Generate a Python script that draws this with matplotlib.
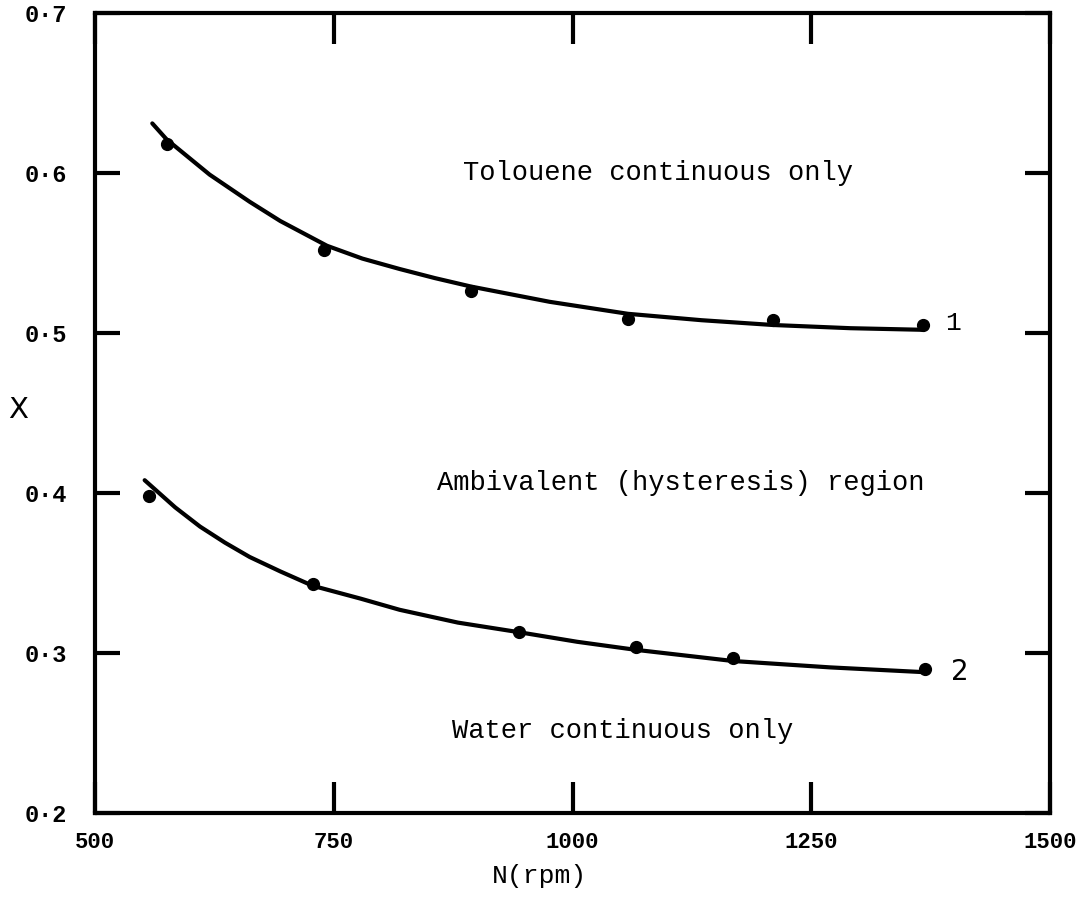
import matplotlib
matplotlib.use("Agg")
from matplotlib import pyplot as plt

# Phase boundary curves: stirrer speed N (rpm) vs. dispersed fraction X
curve1_n = [560, 575, 620, 662, 694, 743, 780, 819, 856, 894, 976, 1058,
            1135, 1210, 1291, 1367]
curve1_x = [0.631, 0.621, 0.599, 0.582, 0.570, 0.5545, 0.5465, 0.540, 0.5343,
            0.529, 0.5195, 0.512, 0.508, 0.505, 0.503, 0.502]
points1_n = [575, 740, 894, 1058, 1210, 1367]
points1_x = [0.618, 0.552, 0.526, 0.509, 0.508, 0.505]

curve2_n = [552, 584, 610, 636, 662, 694, 728, 778, 819, 880, 944, 1005,
            1066, 1168, 1270, 1369]
curve2_x = [0.408, 0.391, 0.379, 0.369, 0.360, 0.351, 0.342, 0.334, 0.327,
            0.319, 0.313, 0.307, 0.302, 0.295, 0.291, 0.288]
points2_n = [557, 728, 944, 1066, 1168, 1369]
points2_x = [0.398, 0.343, 0.313, 0.304, 0.297, 0.290]

x_ticks = [500, 750, 1000, 1250, 1500]
x_ticklabels = ["500", "750", "1000", "1250", "1500"]
y_ticks = [0.2, 0.3, 0.4, 0.5, 0.6, 0.7]
y_ticklabels = ["0·2", "0·3", "0·4", "0·5", "0·6", "0·7"]

region_labels = [
    ("Tolouene continuous only", 1090, 0.600),
    ("Ambivalent (hysteresis) region", 1113, 0.406),
    ("Water continuous only", 1052, 0.251),
]

mono = "Liberation Mono"

fig = plt.figure(figsize=(10.91, 9.06), dpi=100)
ax = fig.add_axes((95 / 1091, 1 - 813 / 906, 955 / 1091, 800 / 906))

ax.plot(curve1_n, curve1_x, color="black", linewidth=3.0,
        solid_capstyle="round", solid_joinstyle="round")
ax.plot(curve2_n, curve2_x, color="black", linewidth=3.0,
        solid_capstyle="round", solid_joinstyle="round")
ax.plot(points1_n, points1_x, "o", color="black", markersize=8.5)
ax.plot(points2_n, points2_x, "o", color="black", markersize=8.5)

ax.set_xlim(500, 1500)
ax.set_ylim(0.2, 0.7)

for spine in ax.spines.values():
    spine.set_linewidth(3.0)

ax.set_xticks(x_ticks)
ax.set_xticklabels(x_ticklabels, family=mono, fontsize=16, fontweight="bold")
ax.set_yticks(y_ticks)
ax.set_yticklabels(y_ticklabels, family=mono, fontsize=17, fontweight="bold")
ax.tick_params(axis="x", direction="in", length=22, width=3, pad=14,
               top=True, bottom=True)
ax.tick_params(axis="y", direction="in", length=18, width=3, pad=20,
               left=True, right=True)

for text, n, x in region_labels:
    ax.text(n, x, text, family=mono, fontsize=19.5, ha="center", va="center")

ax.text(1398, 0.506, "1", family=mono, fontsize=19, ha="center", va="center")
ax.text(1406, 0.288, "2", fontsize=20, ha="center", va="center")

fig.text(18 / 1091, 1 - 410 / 906, "X", fontsize=21, ha="center", va="center")
fig.text(540 / 1091, 1 - 876 / 906, "N(rpm)", family=mono, fontsize=19,
         ha="center", va="center")

fig.savefig("out.png", dpi=100)
